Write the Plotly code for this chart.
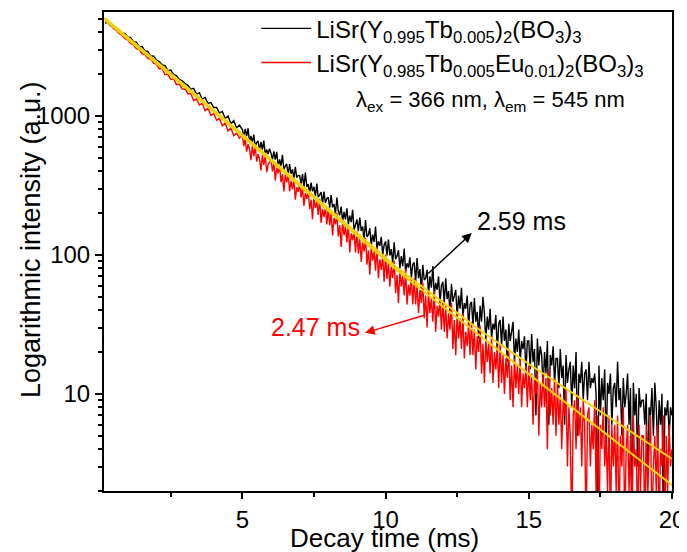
import numpy as np
import plotly.graph_objects as go

# time axis (ms): 0.1 ms channels up to 4.9 ms, then 0.05 ms channels
decay_time = np.round(np.concatenate([np.arange(0.2, 4.95, 0.1),
                                      np.arange(5.0, 20.001, 0.05)]), 2)

# LiSr(Y0.995Tb0.005)2(BO3)3  (black)
tb_intensity = [
    # 0.2 - 4.9 ms (0.1 ms steps)
    4650, 4720, 4460, 4440, 4210, 4180, 3950, 3930,
    3700, 3660, 3420, 3400, 3150, 3160, 2940, 2910, 2690, 2700,
    2520, 2460, 2330, 2300, 2120, 2140, 1980, 1950, 1830, 1790,
    1710, 1660, 1560, 1580, 1430, 1470, 1320, 1360, 1230, 1250,
    1150, 1150, 1050, 1080, 960, 1000, 880, 925, 820, 860,
    # 5.00 - 19.95 ms (0.05 ms steps)
    797, 716, 807, 715, 816, 647, 718, 646, 734, 603, 644, 661, 561, 652, 572, 664, 528, 575, 532, 582,
    540, 481, 556, 485, 551, 434, 486, 438, 525, 408, 436, 451, 376, 451, 384, 412, 354, 430, 360, 373,
    372, 325, 382, 307, 391, 309, 323, 277, 332, 287, 309, 261, 326, 260, 270, 283, 233, 286, 237, 254,
    260, 219, 270, 220, 232, 196, 259, 207, 193, 223, 173, 204, 180, 216, 166, 192, 172, 211, 150, 169,
    180, 148, 186, 149, 160, 127, 178, 135, 140, 156, 117, 140, 124, 160, 111, 125, 116, 135, 100, 118,
    125, 99, 129, 99, 110, 87, 123, 93, 98, 108, 80, 98, 83, 111, 76, 87, 81, 96, 68, 86,
    88, 64, 95, 68, 79, 54, 85, 66, 68, 78, 52, 70, 58, 83, 51, 63, 56, 70, 45, 60,
    64, 45, 68, 48, 55, 38, 62, 46, 50, 56, 36, 51, 41, 58, 36, 45, 41, 51, 30, 44,
    46, 31, 49, 33, 39, 25, 43, 33, 50, 38, 24, 36, 29, 41, 25, 32, 29, 37, 20, 32,
    34, 22, 36, 24, 29, 17, 32, 24, 28, 33, 17, 25, 20, 29, 17, 24, 21, 26, 14, 24,
    24, 15, 27, 17, 21, 7, 25, 16, 22, 19, 11, 20, 14, 24, 6, 19, 16, 22, 12, 18,
    18, 11, 21, 13, 16, 6, 19, 12, 15, 17, 8, 16, 11, 20, 5, 14, 12, 17, 9, 14,
    15, 9, 17, 11, 13, 12, 14, 10, 1, 16, 7, 13, 9, 15, 4, 12, 10, 14, 6, 11,
    12, 8, 17, 9, 11, 5, 13, 8, 10, 14, 6, 11, 1, 12, 7, 10, 3, 11, 8, 9,
    9, 6, 10, 2, 8, 7, 11, 5, 12, 8, 4, 9, 6, 10, 1, 8, 7, 9, 5, 8,
    # 20.00 ms
    7,
]

# LiSr(Y0.985Tb0.005Eu0.01)2(BO3)3  (red)
tbeu_intensity = [
    # 0.2 - 4.9 ms
    5050, 4700, 4520, 4250, 4130, 3900, 3810, 3600,
    3520, 3330, 3240, 3050, 3000, 2800, 2770, 2600, 2560, 2400,
    2360, 2180, 2190, 1980, 2000, 1830, 1850, 1680, 1700, 1560,
    1570, 1440, 1450, 1290, 1330, 1200, 1230, 1090, 1140, 1010,
    1040, 930, 960, 850, 890, 780, 820, 720, 755, 690,
    # 5.00 - 19.95 ms
    733, 607, 689, 554, 626, 580, 481, 610, 513, 603, 469, 531, 491, 405, 522, 444, 517, 394, 449, 461,
    495, 398, 461, 343, 424, 386, 442, 334, 381, 286, 382, 332, 384, 287, 341, 296, 349, 250, 307, 283,
    330, 259, 304, 225, 279, 253, 295, 213, 250, 181, 263, 218, 242, 194, 253, 170, 214, 188, 217, 166,
    218, 163, 200, 138, 185, 166, 200, 136, 164, 114, 173, 139, 161, 123, 166, 104, 143, 127, 147, 104,
    147, 102, 131, 89, 123, 106, 133, 85, 108, 72, 116, 91, 106, 77, 114, 68, 93, 78, 99, 64,
    100, 67, 89, 59, 82, 68, 91, 53, 72, 45, 78, 59, 71, 51, 79, 44, 61, 51, 69, 44,
    68, 44, 61, 38, 56, 45, 63, 35, 51, 30, 55, 38, 49, 33, 55, 28, 43, 36, 48, 29,
    47, 28, 43, 25, 38, 29, 45, 21, 34, 19, 38, 25, 35, 21, 38, 18, 28, 22, 32, 19,
    33, 19, 29, 15, 26, 20, 31, 14, 23, 12, 25, 17, 23, 14, 26, 12, 20, 15, 22, 11,
    23, 12, 19, 10, 18, 13, 21, 9, 16, 8, 18, 11, 16, 10, 18, 8, 14, 11, 16, 8,
    16, 9, 14, 6, 13, 10, 15, 5, 12, 8, 14, 8, 13, 4, 15, 7, 11, 6, 13, 5,
    12, 6, 10, 4, 9, 7, 11, 3, 8, 5, 1, 7, 9, 4, 10, 5, 8, 3, 9, 6,
    1, 7, 8, 3, 6, 4, 9, 2, 7, 1, 6, 4, 8, 3, 5, 2, 7, 1, 6, 3,
    6, 2, 7, 1, 5, 3, 8, 1, 4, 6, 2, 5, 1, 7, 3, 4, 1, 6, 2, 5,
    5, 1, 6, 2, 4, 7, 1, 3, 5, 2, 6, 1, 4, 3, 7, 1, 5, 2, 6, 3,
    # 20.00 ms
    4,
]

assert len(tb_intensity) == len(decay_time) == len(tbeu_intensity)

# fitted curves (yellow)
fit_tb_t = [0.2, 3.52, 5.96, 10.5, 13.29, 15.04, 20.0]
fit_tb_i = [5070, 1346, 499, 78, 28.8, 16.2, 3.4]
fit_tbeu_t = [0.2, 3.52, 5.96, 10.5, 15.04, 20.0]
fit_tbeu_i = [4910, 1303, 482, 74.3, 13.7, 2.21]

name_tb = "LiSr(Y<sub>0.995</sub>Tb<sub>0.005</sub>)<sub>2</sub>(BO<sub>3</sub>)<sub>3</sub>"
name_tbeu = "LiSr(Y<sub>0.985</sub>Tb<sub>0.005</sub>Eu<sub>0.01</sub>)<sub>2</sub>(BO<sub>3</sub>)<sub>3</sub>"
cond_text = "λ<sub>ex</sub> = 366 nm, λ<sub>em</sub> = 545 nm"
tau_tb = "2.59 ms"
tau_tbeu = "2.47 ms"
x_title = "Decay time (ms)"
y_title = "Logarithmic intensity (a.u.)"

FONT = "Liberation Sans, Arial, sans-serif"
YELLOW = "#F2D200"
RED = "#FF0000"

fig = go.Figure()
fig.add_trace(go.Scatter(x=decay_time, y=tb_intensity, mode="lines", name=name_tb,
                         line=dict(color="black", width=1.4)))
fig.add_trace(go.Scatter(x=decay_time, y=tbeu_intensity, mode="lines", name=name_tbeu,
                         line=dict(color=RED, width=1.4)))
fig.add_trace(go.Scatter(x=fit_tb_t, y=fit_tb_i, mode="lines", showlegend=False,
                         line=dict(color=YELLOW, width=2)))
fig.add_trace(go.Scatter(x=fit_tbeu_t, y=fit_tbeu_i, mode="lines", showlegend=False,
                         line=dict(color=YELLOW, width=2)))

minor_y = [m * 10 ** e for e in range(0, 4) for m in range(2, 10) if 2 <= m * 10 ** e <= 5600]

# page body has an 8 px margin, so the figure is 8 px smaller and shifted accordingly
fig.update_layout(
    width=679, height=544,
    margin=dict(l=96, r=15, t=4, b=61, autoexpand=False),
    paper_bgcolor="white", plot_bgcolor="white",
    font=dict(family=FONT, size=24, color="black"),
    showlegend=True,
    legend=dict(x=0.268, y=1.012, xanchor="left", yanchor="top",
                bgcolor="rgba(0,0,0,0)", font=dict(size=24),
                tracegroupgap=0, itemwidth=50),
    xaxis=dict(range=[0.17, 20], showline=True, linecolor="black", linewidth=2,
               mirror=True, ticks="outside", ticklen=6, tickwidth=1.5, tickcolor="black",
               tick0=0, dtick=5, showgrid=False, zeroline=False, automargin=False,
               minor=dict(ticks="outside", ticklen=4, dtick=2.5, tick0=0, tickcolor="black"),
               tickfont=dict(size=24)),
    yaxis=dict(type="log", range=[0.301, 3.748], showline=True, linecolor="black", linewidth=2,
               mirror=True, ticks="outside", ticklen=7, tickwidth=1.5, tickcolor="black",
               tickvals=[10, 100, 1000], ticktext=["10", "100", "1000"],
               showgrid=False, zeroline=False, automargin=False,
               minor=dict(ticks="outside", ticklen=4, tickvals=minor_y, tickcolor="black"),
               tickfont=dict(size=24)),
)

# axis titles
fig.add_annotation(x=0.493, y=-0.098, xref="paper", yref="paper", text=x_title,
                   showarrow=False, xanchor="center", yanchor="middle", font=dict(size=26))
fig.add_annotation(x=-0.1285, y=0.524, xref="paper", yref="paper", text=y_title,
                   showarrow=False, textangle=-90, xanchor="center", yanchor="middle",
                   font=dict(size=27))

fig.add_annotation(x=0.68, y=0.815, xref="paper", yref="paper", text=cond_text,
                   showarrow=False, xanchor="center", yanchor="middle", font=dict(size=22))
fig.add_annotation(x=14.76, y=2.245, xref="x", yref="y", text=tau_tb, showarrow=False,
                   xanchor="center", yanchor="middle", font=dict(size=25, color="black"))
fig.add_annotation(x=7.57, y=1.482, xref="x", yref="y", text=tau_tbeu, showarrow=False,
                   xanchor="center", yanchor="middle", font=dict(size=25, color=RED))
fig.add_annotation(x=13.01, y=2.158, xref="x", yref="y", text="", showarrow=True,
                   ax=-45, ay=42, arrowhead=2, arrowsize=1.3, arrowwidth=1.5, arrowcolor="black")
fig.add_annotation(x=9.28, y=1.439, xref="x", yref="y", text="", showarrow=True,
                   ax=61, ay=-18, arrowhead=2, arrowsize=1.3, arrowwidth=1.5, arrowcolor=RED)

fig.write_html("out.html")
